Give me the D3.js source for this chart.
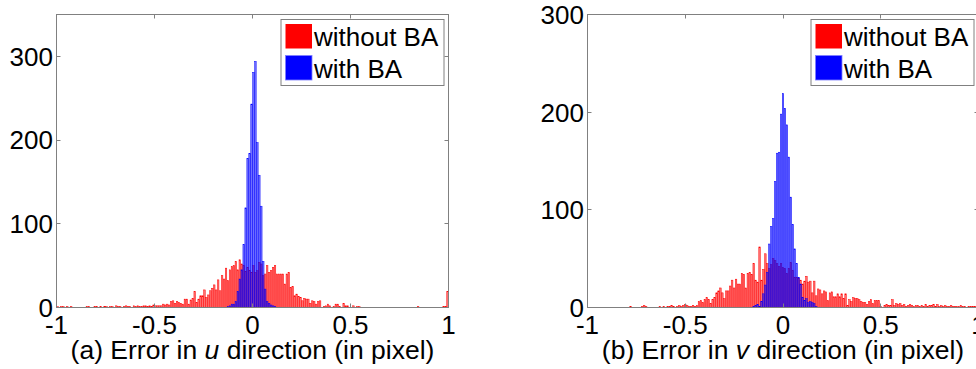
<!DOCTYPE html>
<html><head><meta charset="utf-8">
<script src="https://cdn.jsdelivr.net/npm/d3@7"></script>
<style>
body{margin:0;background:#fff}
svg{display:block}
text{font-family:"Liberation Sans",Arial,sans-serif;fill:#000}
</style>
</head><body>
<svg id="c" width="976" height="369"></svg>
<script>
// ---------- data ----------
const binWidth = 0.01;
const seriesNames = ["without BA", "with BA"];
const seriesColors = ["#ff0000", "#0000ff"];
const xTicks = [-1, -0.5, 0, 0.5, 1];
const xTickLabels = ["-1", "-0.5", "0", "0.5", "1"];
const yTicksU = [0, 100, 200, 300];
const yTicksV = [0, 100, 200, 300];
const titleU = ["(a) Error in ", "u", " direction (in pixel)"];
const titleV = ["(b) Error in ", "v", " direction (in pixel)"];

// (a) u direction: 200 bins from -1 to 1 (first bin left edge -1)
const uFirstEdge = -1;
const uWithoutBA = [
 1,0,1,1,0,1,0,1,0,0, 0,0,0,0,0,1,1,0,0,1, 1,0,1,0,1,1,0,1,1,0, 2,1,1,0,1,2,1,1,0,2, 1,2,1,1,2,2,1,2,
 1,3,2,2,2,2,4,3,4,3, 7,8,5,7,6,5,4,10,10,4, 9,11,19,6,10,14,14,21,12,15, 20,23,27,21,33,20,38,34,47,32, 45,49,50,55,
 45,57,52,50,43,48,44,42,50,42,44,54,52,38,40,50,42,44,48,50,40,40,
 40,40,28,40,42,24,25,14,16,13, 12,8,11,10,10,5,8,7,4,7, 8,0,1,2,4,2,0,1,4,4, 1,0,5,2,2,0,0,2,0,1, 1,0,0,0,0,0,
 0,0,0,0,0,0,0,0,0,0, 0,0,0,0,0,0,0,0,0,0, 0,0,0,0,1,0,0,0,0,0, 0,0,0,0,0,0,0,1,1,19
];
const uWithBAFirstEdge = -0.13;
const uWithBA = [1,2,4,4,7,19,34,45,75,119,178,184,243,281,294,197,158,121,55,22,7,5,3,2,1];

// (b) v direction: 200 bins centred on -1, -0.99, ... (first bin left edge -1.005)
const vFirstEdge = -1.005;
const vWithoutBA = [
 0,0,0,0,0,0,0,0,0,0, 0,0,0,0,0,0,0,0,0,0, 0,0,1,
 0,0,0,0,0,1,2,1,0,0, 0,0,0,0,1,0,1,0,1,1, 2,1,0,1,2,1,2,3,2,1,
 1,2,1,2,6,7,5,8,10,8, 4,8,10,15,17,20,15,9,17,17, 22,28,20,29,24,24,35,34,20,35, 36,34,45,28,26,62,28,39,55,45, 40,44,50,
 48,45,42,45,41,40,35,40,46,38,31,31,30,28,24,
 27,32,26,27,15,27,12,19,18,14,17,16,7,15,16,11,11,14,11,14,9,14,2,8,6,10,9,9,8,6,5,5,3,6,8,4,7,7,7,1,0,2,3,2,2,8,2,4,
 3,4,2,3,1,2,3,2,1,2, 2,1,2,1,3,1,2,2,3,1, 3,1,2,1,2,1,1,2,1,1, 1,1,2,1,1,0,1,1,1,1, 1
];
const vWithBAFirstEdge = -0.155;
const vWithBA = [1,2,3,1,6,14,23,36,65,83,91,129,158,159,198,219,204,187,154,113,85,60,45,31,24,10,7,9,5,6,5,4,1];

// ---------- drawing ----------
const svg = d3.select("#c");
const FONT = 26;
const AXIS_COLOR = "#808080";

function drawPanel(cfg) {
  const g = svg.append("g");
  const x = d3.scaleLinear().domain([-1, 1]).range([cfg.left, cfg.right]);
  const y = d3.scaleLinear().domain([0, cfg.yMax]).range([cfg.bottom, cfg.top]);
  const bw = (x(binWidth) - x(0)) * 0.75;

  const series = [
    {vals: cfg.red, edge: cfg.redEdge, color: seriesColors[0]},
    {vals: cfg.blue, edge: cfg.blueEdge, color: seriesColors[1]}
  ];
  const clipId = "clip" + cfg.id;
  g.append("clipPath").attr("id", clipId).append("rect")
    .attr("x", cfg.left).attr("y", cfg.top).attr("width", cfg.right - cfg.left).attr("height", cfg.bottom - cfg.top);
  const bars = g.append("g").attr("clip-path", `url(#${clipId})`);
  series.forEach(s => {
    bars.append("g").selectAll("rect")
      .data(s.vals.map((v, i) => ({c: s.edge + (i + 0.5) * binWidth, v})).filter(d => d.v > 0))
      .join("rect")
      .attr("x", d => x(d.c) - bw / 2)
      .attr("width", bw)
      .attr("y", d => y(d.v))
      .attr("height", d => y(0) - y(d.v))
      .attr("fill", s.color)
      .attr("fill-opacity", 0.55)
      .attr("stroke", s.color)
      .attr("stroke-width", 0.5)
      .attr("stroke-opacity", 1);
  });

  // frame
  g.append("rect").attr("x", cfg.left).attr("y", cfg.top)
    .attr("width", cfg.right - cfg.left).attr("height", cfg.bottom - cfg.top)
    .attr("fill", "none").attr("stroke", AXIS_COLOR).attr("stroke-width", 1);

  const tl = 4;
  // x ticks (inward, top and bottom)
  xTicks.forEach((t, i) => {
    const px = Math.round(x(t) - 0.5) + 0.5;
    g.append("line").attr("x1", px).attr("x2", px).attr("y1", cfg.bottom).attr("y2", cfg.bottom - tl).attr("stroke", AXIS_COLOR);
    g.append("line").attr("x1", px).attr("x2", px).attr("y1", cfg.top).attr("y2", cfg.top + tl).attr("stroke", AXIS_COLOR);
    g.append("text").attr("x", x(t)).attr("y", 334).attr("text-anchor", "middle")
      .attr("font-size", FONT).text(xTickLabels[i]);
  });
  // y ticks
  cfg.yTicks.forEach(t => {
    const py = Math.round(y(t) - 0.5) + 0.5;
    g.append("line").attr("x1", cfg.left).attr("x2", cfg.left + tl).attr("y1", py).attr("y2", py).attr("stroke", AXIS_COLOR);
    g.append("line").attr("x1", cfg.right).attr("x2", cfg.right - tl).attr("y1", py).attr("y2", py).attr("stroke", AXIS_COLOR);
    g.append("text").attr("x", cfg.left - 3.5).attr("y", y(t)).attr("dy", "0.36em")
      .attr("text-anchor", "end").attr("font-size", FONT).text(t);
  });

  // x label
  const xl = g.append("text").attr("x", (cfg.left + cfg.right) / 2).attr("y", 359)
    .attr("text-anchor", "middle").attr("font-size", 26.5);
  xl.append("tspan").text(cfg.title[0]);
  xl.append("tspan").attr("font-style", "italic").text(cfg.title[1]);
  xl.append("tspan").text(cfg.title[2]);

  // legend
  const L = cfg.legendX;
  g.append("rect").attr("x", L + 0.5).attr("y", 19.5).attr("width", 163).attr("height", 66)
    .attr("fill", "#fff").attr("stroke", AXIS_COLOR).attr("stroke-width", 1);
  seriesNames.forEach((name, i) => {
    g.append("rect").attr("x", L + 5).attr("y", 24 + i * 31.5).attr("width", 26.5).attr("height", 24.5)
      .attr("fill", seriesColors[i]).attr("stroke", i === 1 ? "#8080ff" : "none").attr("stroke-width", 0.8);
    g.append("text").attr("x", L + 33.5).attr("y", 46 + i * 31.5).attr("font-size", FONT).text(name);
  });
}

drawPanel({id: "u", left: 56.5, right: 448.5, top: 14.5, bottom: 307.5, yMax: 350,
  red: uWithoutBA, redEdge: uFirstEdge, blue: uWithBA, blueEdge: uWithBAFirstEdge,
  yTicks: yTicksU, title: titleU, legendX: 280.5});
drawPanel({id: "v", left: 587.5, right: 978.5, top: 14.5, bottom: 307.5, yMax: 300,
  red: vWithoutBA, redEdge: vFirstEdge, blue: vWithBA, blueEdge: vWithBAFirstEdge,
  yTicks: yTicksV, title: titleV, legendX: 810.5});
</script>
</body></html>
